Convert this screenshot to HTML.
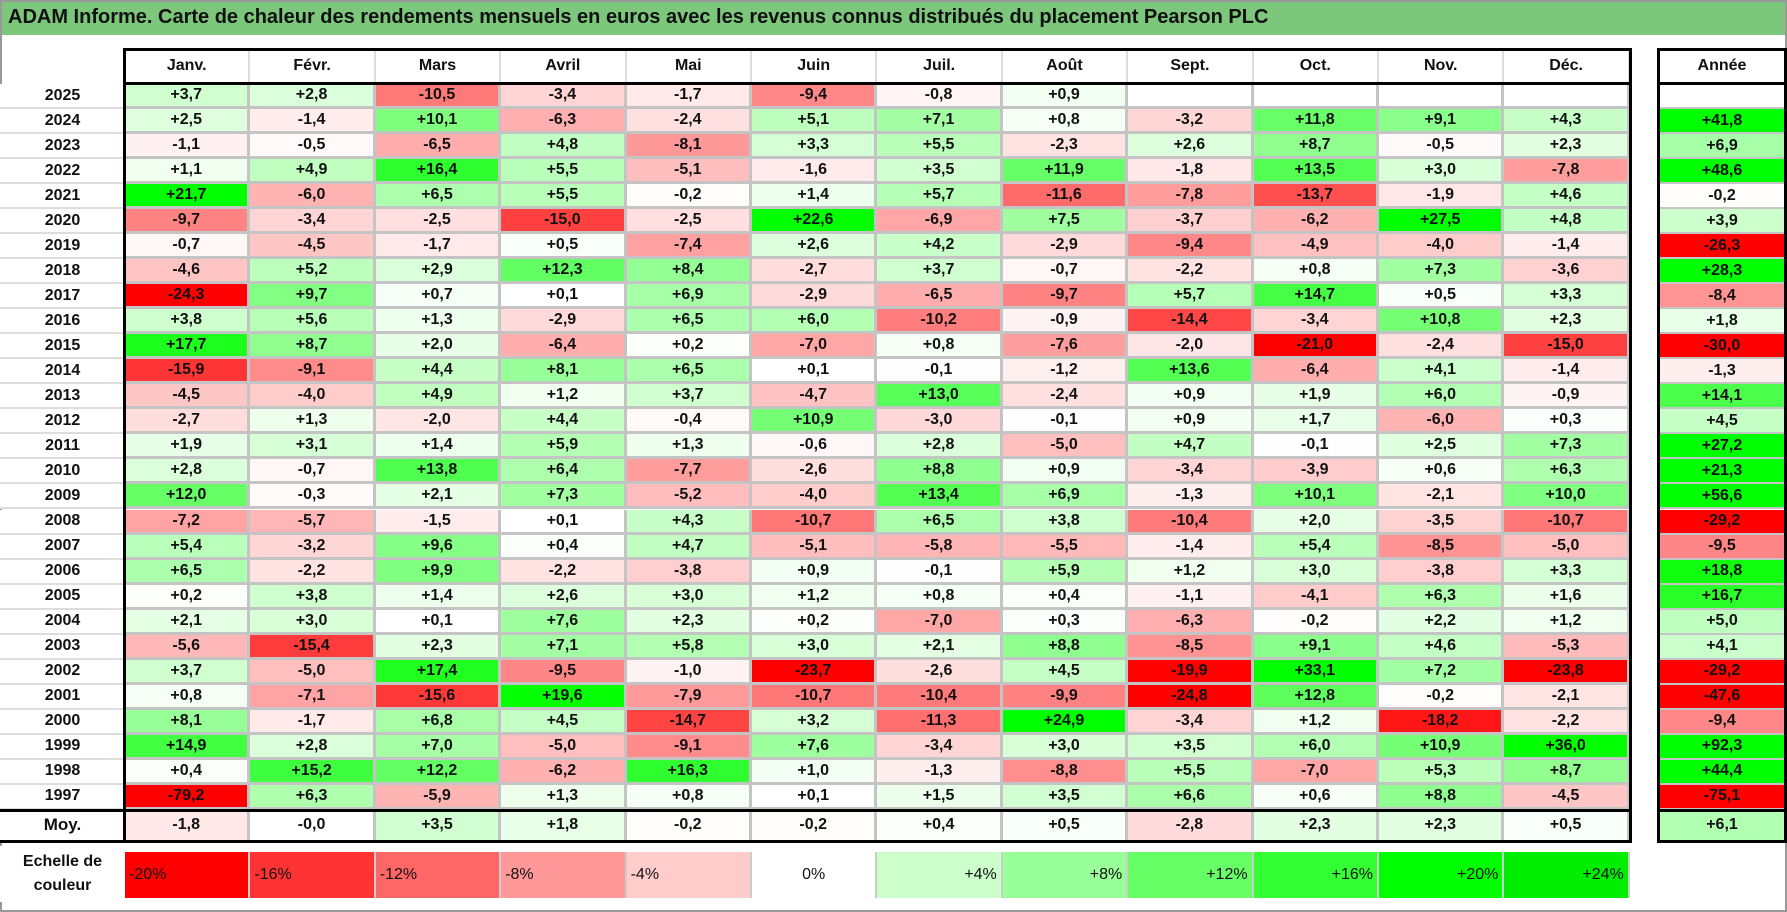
<!DOCTYPE html>
<html><head><meta charset="utf-8">
<style>
body{margin:0;background:#fff;}
#root{position:relative;width:1787px;height:912px;overflow:hidden;font-family:"Liberation Sans",sans-serif;font-weight:bold;color:#111;}
.c{position:absolute;box-sizing:border-box;display:flex;align-items:center;justify-content:center;font-size:16px;}
#frame{position:absolute;left:0;top:0;width:1787px;height:912px;box-sizing:border-box;border:2px solid #999;pointer-events:none;}
#title{position:absolute;left:0;top:0;width:1787px;height:36px;background:#7dc77d;font-size:20px;display:flex;align-items:center;padding-left:8px;box-sizing:border-box;border-bottom:1px solid #fff;}
</style></head>
<body>
<div id="root">
<div id="title">ADAM Informe. Carte de chaleur des rendements mensuels en euros avec les revenus connus distribués du placement Pearson PLC</div>
<div id="frame"></div>
</div>
<script>
const months=["Janv.","Févr.","Mars","Avril","Mai","Juin","Juil.","Août","Sept.","Oct.","Nov.","Déc."];
const years=[2025,2024,2023,2022,2021,2020,2019,2018,2017,2016,2015,2014,2013,2012,2011,2010,2009,2008,2007,2006,2005,2004,2003,2002,2001,2000,1999,1998,1997];
const monthly=[
[3.7,2.8,-10.5,-3.4,-1.7,-9.4,-0.8,0.9,null,null,null,null],
[2.5,-1.4,10.1,-6.3,-2.4,5.1,7.1,0.8,-3.2,11.8,9.1,4.3],
[-1.1,-0.5,-6.5,4.8,-8.1,3.3,5.5,-2.3,2.6,8.7,-0.5,2.3],
[1.1,4.9,16.4,5.5,-5.1,-1.6,3.5,11.9,-1.8,13.5,3.0,-7.8],
[21.7,-6.0,6.5,5.5,-0.2,1.4,5.7,-11.6,-7.8,-13.7,-1.9,4.6],
[-9.7,-3.4,-2.5,-15.0,-2.5,22.6,-6.9,7.5,-3.7,-6.2,27.5,4.8],
[-0.7,-4.5,-1.7,0.5,-7.4,2.6,4.2,-2.9,-9.4,-4.9,-4.0,-1.4],
[-4.6,5.2,2.9,12.3,8.4,-2.7,3.7,-0.7,-2.2,0.8,7.3,-3.6],
[-24.3,9.7,0.7,0.1,6.9,-2.9,-6.5,-9.7,5.7,14.7,0.5,3.3],
[3.8,5.6,1.3,-2.9,6.5,6.0,-10.2,-0.9,-14.4,-3.4,10.8,2.3],
[17.7,8.7,2.0,-6.4,0.2,-7.0,0.8,-7.6,-2.0,-21.0,-2.4,-15.0],
[-15.9,-9.1,4.4,8.1,6.5,0.1,-0.1,-1.2,13.6,-6.4,4.1,-1.4],
[-4.5,-4.0,4.9,1.2,3.7,-4.7,13.0,-2.4,0.9,1.9,6.0,-0.9],
[-2.7,1.3,-2.0,4.4,-0.4,10.9,-3.0,-0.1,0.9,1.7,-6.0,0.3],
[1.9,3.1,1.4,5.9,1.3,-0.6,2.8,-5.0,4.7,-0.1,2.5,7.3],
[2.8,-0.7,13.8,6.4,-7.7,-2.6,8.8,0.9,-3.4,-3.9,0.6,6.3],
[12.0,-0.3,2.1,7.3,-5.2,-4.0,13.4,6.9,-1.3,10.1,-2.1,10.0],
[-7.2,-5.7,-1.5,0.1,4.3,-10.7,6.5,3.8,-10.4,2.0,-3.5,-10.7],
[5.4,-3.2,9.6,0.4,4.7,-5.1,-5.8,-5.5,-1.4,5.4,-8.5,-5.0],
[6.5,-2.2,9.9,-2.2,-3.8,0.9,-0.1,5.9,1.2,3.0,-3.8,3.3],
[0.2,3.8,1.4,2.6,3.0,1.2,0.8,0.4,-1.1,-4.1,6.3,1.6],
[2.1,3.0,0.1,7.6,2.3,0.2,-7.0,0.3,-6.3,-0.2,2.2,1.2],
[-5.6,-15.4,2.3,7.1,5.8,3.0,2.1,8.8,-8.5,9.1,4.6,-5.3],
[3.7,-5.0,17.4,-9.5,-1.0,-23.7,-2.6,4.5,-19.9,33.1,7.2,-23.8],
[0.8,-7.1,-15.6,19.6,-7.9,-10.7,-10.4,-9.9,-24.8,12.8,-0.2,-2.1],
[8.1,-1.7,6.8,4.5,-14.7,3.2,-11.3,24.9,-3.4,1.2,-18.2,-2.2],
[14.9,2.8,7.0,-5.0,-9.1,7.6,-3.4,3.0,3.5,6.0,10.9,36.0],
[0.4,15.2,12.2,-6.2,16.3,1.0,-1.3,-8.8,5.5,-7.0,5.3,8.7],
[-79.2,6.3,-5.9,1.3,0.8,0.1,1.5,3.5,6.6,0.6,8.8,-4.5]];
const annual=[null,41.8,6.9,48.6,-0.2,3.9,-26.3,28.3,-8.4,1.8,-30.0,-1.3,14.1,4.5,27.2,21.3,56.6,-29.2,-9.5,18.8,16.7,5.0,4.1,-29.2,-47.6,-9.4,92.3,44.4,-75.1];
const averages=[-1.8,-0.0,3.5,1.8,-0.2,-0.2,0.4,0.5,-2.8,2.3,2.3,0.5];
const averageAnnual=6.1;
const scaleSteps=[-20,-16,-12,-8,-4,0,4,8,12,16,20,24];

const root=document.getElementById('root');
const X0=125,CW=125.4,AX=1659,AW=126,HY=48,HH=36,RH=25.03;
const colX=i=>X0+i*CW;
const rowY=i=>HY+HH+i*RH;
function color(v){
  if(v===null) return '#fff';
  const t=Math.min(Math.abs(v)/20,1);
  const k=Math.round(255*(1-t));
  return v<0?`rgb(255,${k},${k})`:`rgb(${k},255,${k})`;
}
function fmt(v){
  if(v===null) return '';
  const neg=v<0||Object.is(v,-0);
  return (neg?'-':'+')+Math.abs(v).toFixed(1).replace('.',',');
}
function cell(x,y,w,h,txt,bg,name){
  const d=document.createElement('div');
  d.className='c';
  d.style.cssText=`left:${x}px;top:${y}px;width:${w}px;height:${h}px;background:${bg};`;
  d.textContent=txt;
  
  
  root.appendChild(d);
  return d;
}
function box(x,y,w,h,css,name){
  const d=document.createElement('div');
  d.style.cssText=`position:absolute;left:${x}px;top:${y}px;width:${w}px;height:${h}px;box-sizing:border-box;${css}`;
  
  
  root.appendChild(d);
}
const G='border-right:3px solid #c4c4c4;border-bottom:3px solid #c4c4c4;';
months.forEach((m,i)=>{const d=cell(colX(i),HY,CW,HH,m,'#fff','month-header');d.style.borderRight='2px solid #ddd';});
cell(AX,HY,AW,HH,'Année','#fff','year-header');
years.forEach((y,r)=>{
  const d=cell(0,rowY(r),X0,RH,String(y),'#fff','year-label');d.style.borderBottom='2px solid #ddd';
  monthly[r].forEach((v,c)=>{
    const e=cell(colX(c),rowY(r),CW,RH,fmt(v),color(v),'heat-cell');
    e.style.cssText+=G;
  });
  const a=cell(AX,rowY(r),AW,RH,fmt(annual[r]),color(annual[r]),'annual-cell');
  a.style.cssText+='border-bottom:2px solid #c4c4c4;';
});
const MY=rowY(years.length),MH=31;
cell(0,MY,X0,MH,'Moy.','#fff','average-label').style.fontSize='17px';
averages.forEach((v,c)=>{const e=cell(colX(c),MY,CW,MH,fmt(v),color(v),'average-cell');e.style.cssText+='border-right:3px solid #c4c4c4;';});
cell(AX,MY,AW,MH,fmt(averageAnnual),color(averageAnnual),'average-annual-cell');
// borders
box(X0-2,HY,colX(12)-X0+4,MY+MH-HY+2,'border:3px solid #000;','grid-border');
box(X0-2,HY,3,MY+MH-HY,'background:#000;','label-divider');
box(X0-2,HY+HH-2,colX(12)-X0+4,3,'background:#000;','header-divider');
box(0,MY-1,colX(12)+2,3,'background:#000;','average-divider');
box(0,MY+MH-1,colX(12)+2,3,'background:#000;','bottom-divider');
box(AX-2,HY,AW+4,MY+MH-HY+2,'border:3px solid #000;','annual-border');
box(AX-2,HY+HH-2,AW+4,3,'background:#000;','annual-header-divider');
box(AX-2,MY-1,AW+4,3,'background:#000;','annual-average-divider');
// legend
const LY=852,LH=46;
const l=cell(0,LY-6,X0,LH+10,'','#fff','legend-title');
l.innerHTML='Echelle de<br>couleur';l.style.textAlign='center';l.style.fontSize='16px';l.style.lineHeight='24px';
scaleSteps.forEach((s,i)=>{
  const txt=(s>0?'+':'')+s+'%';
  const e=cell(colX(i),LY,CW,LH,txt,color(s===24?20:s),'legend-swatch');
  e.style.justifyContent=s<0?'flex-start':(s===0?'center':'flex-end');
  e.style.padding='0 4px';e.style.fontWeight='normal';e.style.fontSize='16px';
  e.style.cssText+='border-right:2px solid #ccc;';
  if(s===24) e.style.background='rgb(0,238,0)';
});
</script>
</body></html>
